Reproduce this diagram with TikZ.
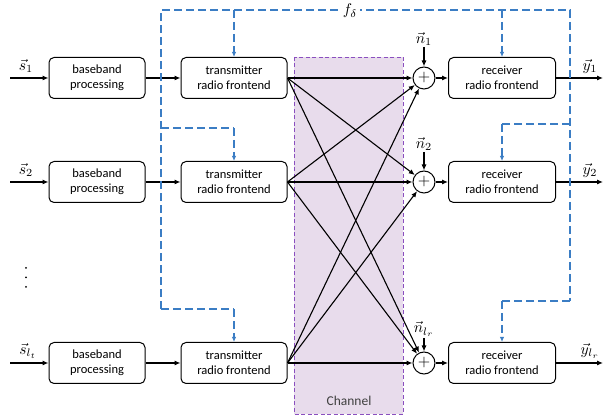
\documentclass[tikz,border=0pt]{standalone}
\usepackage{fontspec}
\setmainfont{Carlito}
\usetikzlibrary{arrows.meta}
\definecolor{fbblue}{HTML}{3B7DC4}
\definecolor{chfill}{HTML}{E8DCEC}
\definecolor{chedge}{HTML}{8A4FBF}
\newcommand{\biglab}[1]{\scalebox{1.55}{$#1$}}
\begin{document}
\begin{tikzpicture}[x=1pt,y=-1pt,
  blockbox/.style={draw, line width=1pt, rounded corners=5pt, align=center,
    minimum height=41pt, inner sep=0pt, font=\fontsize{12.5}{15}\selectfont},
  bbbox/.style={blockbox, minimum width=96pt},
  txbox/.style={blockbox, minimum width=106pt},
  rxbox/.style={blockbox, minimum width=107pt},
  sumnode/.style={draw, circle, line width=1pt, minimum size=22pt, inner sep=0pt},
  sig/.style={line width=1.1pt, -{Latex[length=6pt,width=5pt]}},
  chan/.style={line width=1.1pt, -{Latex[length=6pt,width=5pt]}},
  fb/.style={fbblue, line width=1.2pt, dash pattern=on 8pt off 4pt},
  fbarrow/.style={fb, -{Latex[length=5pt,width=4.5pt]}},
  mlabel/.style={inner sep=1pt}
]
\useasboundingbox (0,0) rectangle (603,419);

% channel region
\fill[chfill] (294,57) rectangle (403,414);
\draw[chedge, line width=0.9pt, dash pattern=on 4pt off 2.5pt] (294,57) rectangle (403,414);
\node[font=\fontsize{13.5}{14}\selectfont, text=black!75] (chlabel) at (349,401) {Channel};

% blocks
\foreach \i/\y in {1/78, 2/182, 3/363} {
  \node[bbbox] (bb\i) at (97,\y) {baseband\\processing};
  \node[txbox] (tx\i) at (234,\y) {transmitter\\radio frontend};
  \node[sumnode] (sum\i) at (424,\y) {\scalebox{1.6}{$+$}};
  \node[rxbox] (rx\i) at (502,\y) {receiver\\radio frontend};
  \coordinate (in\i) at (10,\y);
  \coordinate (out\i) at (603,\y);
  \draw[sig] (in\i) -- (bb\i);
  \draw[sig] (bb\i) -- (tx\i);
  \draw[sig] (sum\i) -- (rx\i);
  \draw[sig] (rx\i) -- (out\i);
}

% input / output labels
\node[mlabel] (s1) at (26,66) {\biglab{\vec{s}_1}};
\node[mlabel] (s2) at (26,170) {\biglab{\vec{s}_2}};
\node[mlabel] (s3) at (28,351) {\biglab{\vec{s}_{l_t}}};
\node[mlabel] (y1) at (590,66) {\biglab{\vec{y}_1}};
\node[mlabel] (y2) at (590,170) {\biglab{\vec{y}_2}};
\node[mlabel] (y3) at (590,351) {\biglab{\vec{y}_{l_r}}};
% vertical ellipsis between the second and last rows
\foreach \d in {268,277.5,287} \fill (26,\d) circle (1pt);

% noise inputs
\coordinate (nz1) at (424,47);
\coordinate (nz2) at (424,152);
\coordinate (nz3) at (424,338);
\node[mlabel, anchor=south] (n1) at (nz1) {\biglab{\vec{n}_1}};
\node[mlabel, anchor=south] (n2) at (nz2) {\biglab{\vec{n}_2}};
\node[mlabel, anchor=south] (n3) at (nz3) {\biglab{\vec{n}_{l_r}}};
\foreach \i in {1,2,3} \draw[sig] (nz\i) -- (sum\i);

% channel paths: every transmitter to every receiver sum
\foreach \i in {1,2,3} \foreach \j in {1,2,3}
  \draw[chan] (tx\i.east) -- (sum\j);

% synchronisation / frequency offset bus
\coordinate (bl1) at (161,10);
\coordinate (bl2) at (161,128);
\coordinate (bl3) at (161,309);
\coordinate (br1) at (570,10);
\coordinate (br2) at (570,124);
\coordinate (br3) at (570,301);
\draw[fb] (bl3) -- (bl1) -- (br1) -- (br3);
\node[fill=white, inner sep=3pt] (fdelta) at (350,11) {\biglab{f_\delta}};
\draw[fbarrow] (tx1.north |- bl1) -- (tx1.north);
\draw[fb] (bl2) -- (tx2.north |- bl2);
\draw[fbarrow] (tx2.north |- bl2) -- (tx2.north);
\draw[fb] (bl3) -- (tx3.north |- bl3);
\draw[fbarrow] (tx3.north |- bl3) -- (tx3.north);
\draw[fbarrow] (rx1.north |- br1) -- (rx1.north);
\draw[fb] (br2) -- (rx2.north |- br2);
\draw[fbarrow] (rx2.north |- br2) -- (rx2.north);
\draw[fb] (br3) -- (rx3.north |- br3);
\draw[fbarrow] (rx3.north |- br3) -- (rx3.north);
\end{tikzpicture}
\end{document}
